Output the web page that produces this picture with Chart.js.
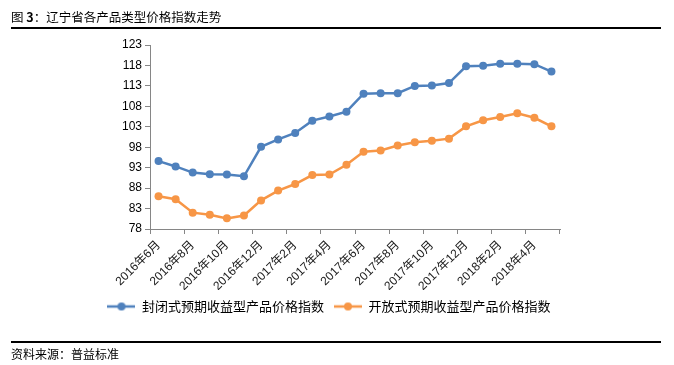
<!DOCTYPE html>
<html>
<head>
<meta charset="utf-8">
<script src="https://cdn.jsdelivr.net/npm/chart.js@4.4.1/dist/chart.umd.min.js"></script>
<style>
  html, body { margin: 0; padding: 0; background: #fff; }
  #wrap { position: relative; width: 674px; height: 365px; overflow: hidden; font-family: "Noto Sans CJK SC", sans-serif; color: #000; }
  #title { position: absolute; left: 11px; top: 7px; font-size: 12.5px; }
  #title b { font-weight: bold; }
  .rule { position: absolute; left: 11px; width: 650px; height: 2px; background: #000; }
  #src { position: absolute; left: 11px; top: 345px; font-size: 12px; }
  canvas { position: absolute; left: 0; top: 0; }
</style>
</head>
<body>
<div id="wrap">
  <canvas id="c" width="674" height="365"></canvas>
  <div id="title">图 <b>3</b>：辽宁省各产品类型价格指数走势</div>
  <div class="rule" style="top:27px"></div>
  <div class="rule" style="top:341px"></div>
  <div id="src">资料来源：普益标准</div>
</div>
<script>
// el data - 9rina men el taswira
const months = [
  '2016年6月', '2016年7月', '2016年8月', '2016年9月', '2016年10月', '2016年11月',
  '2016年12月', '2017年1月', '2017年2月', '2017年3月', '2017年4月', '2017年5月',
  '2017年6月', '2017年7月', '2017年8月', '2017年9月', '2017年10月', '2017年11月',
  '2017年12月', '2018年1月', '2018年2月', '2018年3月', '2018年4月', '2018年5月'
];
const closedIndex = [94.6, 93.3, 91.8, 91.4, 91.3, 90.9, 98.1, 99.9, 101.5, 104.5, 105.5, 106.7,
                     111.1, 111.2, 111.2, 113.0, 113.1, 113.7, 117.8, 117.9, 118.4, 118.4, 118.3, 116.5];
const openIndex = [86.0, 85.3, 82.0, 81.5, 80.6, 81.3, 85.0, 87.4, 89.0, 91.2, 91.3, 93.7,
                   96.9, 97.2, 98.4, 99.2, 99.6, 100.1, 103.1, 104.6, 105.4, 106.3, 105.2, 103.1];
const seriesNames = ['封闭式预期收益型产品价格指数', '开放式预期收益型产品价格指数'];
const yMin = 78, yMax = 123, yStep = 5;

const BLUE = '#4F81BD';
const ORANGE = '#F79646';
const AXIS = '#868686';

// marker mta3 el legend: khat w no9ta fi wostou
function legendMarker(color) {
  const c = document.createElement('canvas');
  c.width = 28; c.height = 10;
  const g = c.getContext('2d');
  g.strokeStyle = color;
  g.lineWidth = 2.5;
  g.beginPath(); g.moveTo(0, 5); g.lineTo(28, 5); g.stroke();
  g.fillStyle = color;
  g.beginPath(); g.arc(14, 5, 4, 0, Math.PI * 2); g.fill();
  return c;
}
const markers = [legendMarker(BLUE), legendMarker(ORANGE)];

const font = '"Liberation Sans", "Noto Sans CJK SC", sans-serif';

new Chart(document.getElementById('c'), {
  type: 'line',
  data: {
    labels: months,
    datasets: [
      {
        label: seriesNames[0],
        data: closedIndex,
        borderColor: BLUE,
        backgroundColor: BLUE,
        borderWidth: 2.5,
        pointRadius: 4,
        pointHoverRadius: 4,
        pointBorderWidth: 0,
        tension: 0
      },
      {
        label: seriesNames[1],
        data: openIndex,
        borderColor: ORANGE,
        backgroundColor: ORANGE,
        borderWidth: 2.5,
        pointRadius: 4,
        pointHoverRadius: 4,
        pointBorderWidth: 0,
        tension: 0
      }
    ]
  },
  options: {
    responsive: false,
    animation: false,
    // padding mta3 el jnab bech el legend yji fil wost kima el asl
    layout: { padding: { left: 60, right: 76, top: 45, bottom: 42 } },
    plugins: {
      tooltip: { enabled: false },
      legend: {
        position: 'bottom',
        labels: {
          color: '#000',
          font: { family: '"Noto Sans CJK SC", sans-serif', size: 13 },
          usePointStyle: true,
          pointStyleWidth: 28,
          boxHeight: 10,
          padding: 10,
          generateLabels(chart) {
            const items = Chart.defaults.plugins.legend.labels.generateLabels(chart);
            items.forEach((it, i) => { it.pointStyle = markers[i]; });
            return items;
          }
        }
      }
    },
    scales: {
      x: {
        offset: true,
        afterFit(s) { s.height = 61; },
        border: { color: AXIS, width: 1 },
        grid: {
          offset: true,
          drawOnChartArea: false,
          drawTicks: true,
          tickLength: 5,
          // tick marks kol zouz chhour bark
          tickColor: ctx => (ctx.index === undefined || ctx.index % 2 === 0) ? AXIS : 'rgba(0,0,0,0)'
        },
        ticks: {
          autoSkip: false,
          maxRotation: 45,
          minRotation: 45,
          padding: 4,
          color: '#1a1a1a',
          font: { family: font, size: 12 },
          callback(val, i) { return i % 2 === 0 ? months[i] : ''; }
        }
      },
      y: {
        min: yMin,
        max: yMax,
        afterFit(s) { s.width = 90; },
        border: { color: AXIS, width: 1 },
        grid: { drawOnChartArea: false, drawTicks: true, tickLength: 5, tickColor: AXIS },
        ticks: {
          stepSize: yStep,
          padding: 3,
          color: '#000',
          font: { family: font, size: 12 }
        }
      },
      // axe fer8 3al imin, ghir bech ykhalli faragh
      spacer: {
        type: 'linear',
        position: 'right',
        display: true,
        afterFit(s) { s.width = 38; },
        border: { display: false },
        grid: { display: false },
        ticks: { display: false }
      }
    }
  }
});
</script>
</body>
</html>
